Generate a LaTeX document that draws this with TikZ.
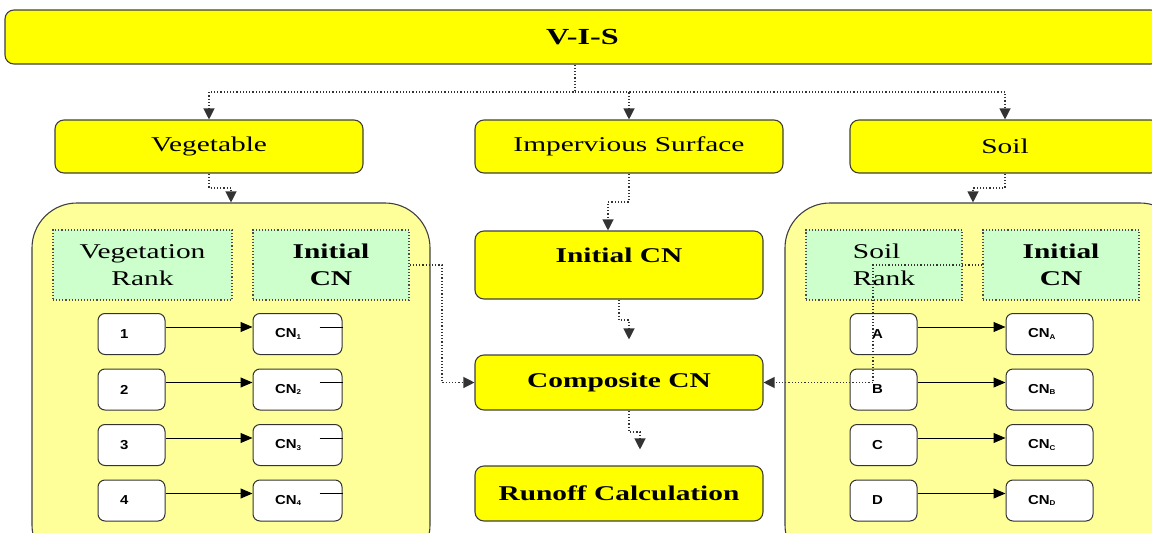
\documentclass[tikz,border=0pt]{standalone}
\usepackage{fontspec}
\setmainfont{Liberation Serif}[FakeStretch=1.4]
\newfontfamily\cellfont{Liberation Sans}[FakeStretch=1.15]
\usetikzlibrary{arrows.meta}
\usetikzlibrary{calc}
\definecolor{mainyellow}{RGB}{255,255,0}
\definecolor{paleyellow}{RGB}{255,255,153}
\definecolor{palegreen}{RGB}{204,255,204}
\newcommand{\cnlabel}[1]{CN\raisebox{-1.5pt}{\fontsize{7}{7}\selectfont #1}}

\begin{document}
\begin{tikzpicture}[x=1pt,y=1pt,yscale=-1,xscale=1,
  mainbox/.style={draw=black!75,line width=1.1pt,fill=mainyellow,rounded corners=9pt,inner sep=0pt,font=\fontsize{21}{25}\selectfont},
  boldbox/.style={mainbox,font=\bfseries\fontsize{21}{25}\selectfont},
  panel/.style={draw=black!75,line width=1.1pt,fill=paleyellow,rounded corners=45pt,inner sep=0pt},
  greenbox/.style={draw=black!70,dotted,line width=1.1pt,fill=palegreen,inner sep=0pt,minimum height=70pt,align=center,font=\fontsize{21}{27}\selectfont},
  rankbox/.style={draw=black!80,line width=1pt,fill=white,rounded corners=7pt,minimum height=41pt,inner xsep=22pt,inner ysep=0pt,align=left,font=\cellfont\bfseries\fontsize{13}{15}\selectfont},
  link/.style={dotted,line width=1.2pt,draw=black!80,-{Triangle[width=11pt,length=11pt]}},
  solidlink/.style={line width=1pt,-{Triangle[width=10pt,length=12pt]}}
]
\useasboundingbox (0,0) rectangle (1152,533);

%Shape: Rounded Rect -- top
\draw (582.5,37) node [boldbox,minimum width=1155pt,minimum height=54pt,font=\bfseries\fontsize{23}{25}\selectfont] (vis) {V-I-S};

%Shape: Rounded Rect -- second row
\draw (209,146.5) node [mainbox,minimum width=308pt,minimum height=53pt] (veg) {Vegetable};
\draw (629,146.5) node [mainbox,minimum width=308pt,minimum height=53pt] (imp) {Impervious Surface};
\draw (1005,146.5) node [mainbox,minimum width=310pt,minimum height=53pt] (soil) {Soil};

%Shape: Rounded Rect -- side panels
\draw (231,386.5) node [panel,minimum width=398pt,minimum height=367pt] (vegpanel) {};
\draw (985,386.5) node [panel,minimum width=400pt,minimum height=367pt] (soilpanel) {};

% Text Node -- panel headers
\draw (142.5,265) node [greenbox,minimum width=179pt] (vegrank) {Vegetation\\Rank};
\draw (331,265) node [greenbox,minimum width=156pt,font=\bfseries\fontsize{21}{27}\selectfont] (vegcn) {Initial\\CN};
\draw (884,265) node [greenbox,minimum width=156pt,align=left] (soilrank) {Soil\\Rank};
\draw (1061,265) node [greenbox,minimum width=156pt,font=\bfseries\fontsize{21}{27}\selectfont] (soilcn) {Initial\\CN};

%Shape: Rounded Rect -- centre column
\draw (619,265) node [boldbox,minimum width=288pt,minimum height=68pt,text depth=20pt] (initcn) {Initial CN};
\draw (619,382.5) node [boldbox,minimum width=288pt,minimum height=55pt] (comp) {Composite CN};
\draw (619,493.5) node [boldbox,minimum width=288pt,minimum height=55pt] (runoff) {Runoff Calculation};

% Text Node -- vegetation ranks
\draw (131.5,334) node [rankbox,text width=23pt] (v1) {1};
\draw (131.5,389.5) node [rankbox,text width=23pt] (v2) {2};
\draw (131.5,445) node [rankbox,text width=23pt] (v3) {3};
\draw (131.5,500.5) node [rankbox,text width=23pt] (v4) {4};
\draw (297.5,334) node [rankbox,text width=45pt] (cv1) {\cnlabel{1}};
\draw (297.5,389.5) node [rankbox,text width=45pt] (cv2) {\cnlabel{2}};
\draw (297.5,445) node [rankbox,text width=45pt] (cv3) {\cnlabel{3}};
\draw (297.5,500.5) node [rankbox,text width=45pt] (cv4) {\cnlabel{4}};

% Text Node -- soil ranks
\draw (883.5,334) node [rankbox,text width=23pt] (sa) {A};
\draw (883.5,389.5) node [rankbox,text width=23pt] (sb) {B};
\draw (883.5,445) node [rankbox,text width=23pt] (sc) {C};
\draw (883.5,500.5) node [rankbox,text width=23pt] (sd) {D};
\draw (1049.5,334) node [rankbox,text width=43pt] (csa) {\cnlabel{A}};
\draw (1049.5,389.5) node [rankbox,text width=43pt] (csb) {\cnlabel{B}};
\draw (1049.5,445) node [rankbox,text width=43pt] (csc) {\cnlabel{C}};
\draw (1049.5,500.5) node [rankbox,text width=43pt] (csd) {\cnlabel{D}};

%Straight Lines -- rank to CN
\draw [solidlink] ($(v1.east)+(0,-7)$) -- ($(cv1.west)+(0,-7)$);
\draw [solidlink] ($(v2.east)+(0,-7)$) -- ($(cv2.west)+(0,-7)$);
\draw [solidlink] ($(v3.east)+(0,-7)$) -- ($(cv3.west)+(0,-7)$);
\draw [solidlink] ($(v4.east)+(0,-7)$) -- ($(cv4.west)+(0,-7)$);
\draw [line width=0.8pt] ($(cv1.east)+(-23,-7)$) -- ($(cv1.east)+(0,-7)$);
\draw [line width=0.8pt] ($(cv2.east)+(-23,-7)$) -- ($(cv2.east)+(0,-7)$);
\draw [line width=0.8pt] ($(cv3.east)+(-23,-7)$) -- ($(cv3.east)+(0,-7)$);
\draw [line width=0.8pt] ($(cv4.east)+(-23,-7)$) -- ($(cv4.east)+(0,-7)$);
\draw [solidlink] ($(sa.east)+(0,-7)$) -- ($(csa.west)+(0,-7)$);
\draw [solidlink] ($(sb.east)+(0,-7)$) -- ($(csb.west)+(0,-7)$);
\draw [solidlink] ($(sc.east)+(0,-7)$) -- ($(csc.west)+(0,-7)$);
\draw [solidlink] ($(sd.east)+(0,-7)$) -- ($(csd.west)+(0,-7)$);

%Elbow Connectors -- dotted flow
\coordinate (split) at (575,92);
\draw [link] (vis.south -| split) -- (split) -| (veg.north);
\draw [link] (split) -| (imp.north);
\draw [link] (split) -| (soil.north);

\coordinate (vegbend) at (231,188);
\draw [link] (veg.south) |- (vegbend) -- (vegpanel.north);
\coordinate (soilbend) at (973,188);
\draw [link] (soil.south) |- (soilbend) -- (soilbend |- soilpanel.north);
\coordinate (impbend) at (608,202);
\draw [link] (imp.south) |- (impbend) -- (impbend |- initcn.north);
\coordinate (initbend) at (629,320);
\draw [link,shorten >=15pt] (initcn.south) |- (initbend) -- (initbend |- comp.north);
\coordinate (compbend) at (640,432);
\draw [link,shorten >=16pt] ($(comp.south)+(10,0)$) |- (compbend) -- (compbend |- runoff.north);

\coordinate (vegjoin) at (442,382.5);
\draw [link] (vegcn.east) -| (vegjoin) -- (comp.west);
\coordinate (soiljoin) at (873,382.5);
\draw [link] (soilcn.west) -| (soiljoin) -- (comp.east);

\end{tikzpicture}
\end{document}
